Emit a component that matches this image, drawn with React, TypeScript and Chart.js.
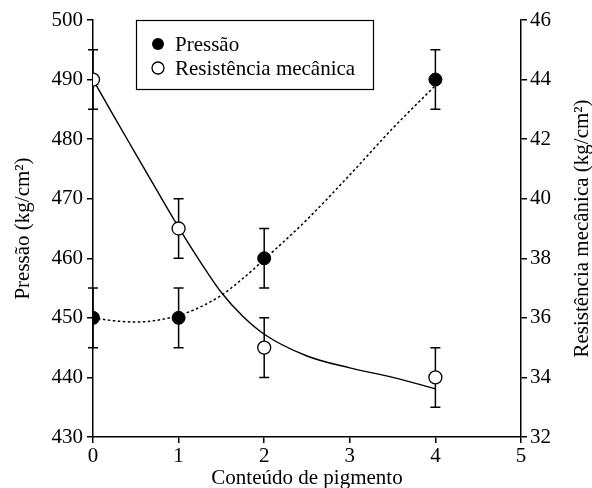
import React, { useEffect, useRef } from 'react';
import { Chart, registerables } from 'chart.js';

Chart.register(...registerables);

// ---- data ----
const pigmento = [0, 1, 2, 4];
const pressao = [450, 450, 460, 490];
const pressaoErr = [5, 5, 5, 5];
const resistencia = [44, 39, 35, 34];
const resistenciaErr = [1, 1, 1, 1];

const pressaoFitX = [0, 0.25, 0.5, 0.75, 1, 1.25, 1.5, 1.75, 2, 2.5, 3, 3.5, 4];
const pressaoFitY = [450, 449.5, 449.3, 449.6, 450.4, 451.8, 453.8, 456.6, 459.8, 466.5, 474, 481.8, 489];

const resistFitX = [0, 0.25, 0.5, 0.75, 1, 1.25, 1.5, 1.75, 2, 2.5, 3, 3.5, 4];
const resistFitY = [44, 42.74, 41.5, 40.26, 39.04, 37.9, 36.85, 36.05, 35.45, 34.72, 34.32, 34.0, 33.62];

const xRange = [0, 5];
const pressaoRange = [430, 500];
const resistRange = [32, 46];

const labelPressao = 'Pressão';
const labelResist = 'Resistência mecânica';
const xTitle = 'Conteúdo de pigmento';
const yTitle = 'Pressão (kg/cm²)';
const y1Title = 'Resistência mecânica (kg/cm²)';

const FONT = '"Liberation Serif", "Times New Roman", serif';
const FS = 21;

const errorBarPlugin = {
  id: 'errorBars',
  beforeDatasetsDraw(chart: any) {
    const ctx = chart.ctx;
    const xs = chart.scales.x;
    const sets = [
      { vals: pressao, errs: pressaoErr, scale: chart.scales.y },
      { vals: resistencia, errs: resistenciaErr, scale: chart.scales.y1 },
    ];
    ctx.save();
    ctx.strokeStyle = '#000';
    ctx.lineWidth = 1.5;
    for (const s of sets) {
      for (let i = 0; i < pigmento.length; i++) {
        const px = xs.getPixelForValue(pigmento[i]);
        const t = s.scale.getPixelForValue(s.vals[i] + s.errs[i]);
        const b = s.scale.getPixelForValue(s.vals[i] - s.errs[i]);
        ctx.beginPath();
        ctx.moveTo(px, t);
        ctx.lineTo(px, b);
        ctx.moveTo(px - 5, t);
        ctx.lineTo(px + 5, t);
        ctx.moveTo(px - 5, b);
        ctx.lineTo(px + 5, b);
        ctx.stroke();
      }
    }
    ctx.restore();
  },
};

const decorPlugin = {
  id: 'decor',
  afterDraw(chart: any) {
    const ctx = chart.ctx;
    const ca = chart.chartArea;
    ctx.save();
    ctx.fillStyle = '#000';
    ctx.strokeStyle = '#000';
    ctx.font = `${FS}px ${FONT}`;
    // x title
    ctx.textAlign = 'center';
    ctx.textBaseline = 'alphabetic';
    ctx.fillText(xTitle, (ca.left + ca.right) / 2, 484);
    // left title
    const cy = (ca.top + ca.bottom) / 2;
    ctx.save();
    ctx.translate(23, cy);
    ctx.rotate(-Math.PI / 2);
    ctx.textBaseline = 'middle';
    ctx.fillText(yTitle, 0, 0);
    ctx.restore();
    // right title
    ctx.save();
    ctx.translate(582, cy);
    ctx.rotate(-Math.PI / 2);
    ctx.textBaseline = 'middle';
    ctx.fillText(y1Title, 0, 0);
    ctx.restore();

    // legend
    ctx.lineWidth = 1.2;
    ctx.strokeRect(136.5, 20.5, 237, 69);
    ctx.textAlign = 'left';
    ctx.textBaseline = 'middle';
    ctx.beginPath();
    ctx.arc(158, 44, 6, 0, Math.PI * 2);
    ctx.fill();
    ctx.fillText(labelPressao, 175, 45);
    ctx.beginPath();
    ctx.arc(158, 68, 6, 0, Math.PI * 2);
    ctx.fillStyle = '#fff';
    ctx.fill();
    ctx.lineWidth = 1.3;
    ctx.stroke();
    ctx.fillStyle = '#000';
    ctx.fillText(labelResist, 175, 69);
    ctx.restore();
  },
};

export default function App() {
  const ref = useRef<HTMLCanvasElement>(null);
  useEffect(() => {
    document.body.style.margin = '0';
    Chart.defaults.font.family = FONT;
    Chart.defaults.font.size = FS;
    Chart.defaults.color = '#000';
    const chart = new Chart(ref.current as HTMLCanvasElement, {
      type: 'scatter',
      data: {
        datasets: [
          {
            label: labelPressao,
            data: pigmento.map((x, i) => ({ x, y: pressao[i] })),
            yAxisID: 'y',
            pointRadius: 6.5,
            pointBackgroundColor: '#000',
            pointBorderColor: '#000',
            pointBorderWidth: 1,
            showLine: false,
          },
          {
            label: labelResist,
            data: pigmento.map((x, i) => ({ x, y: resistencia[i] })),
            yAxisID: 'y1',
            pointRadius: 6.5,
            pointBackgroundColor: '#fff',
            pointBorderColor: '#000',
            pointBorderWidth: 1.3,
            showLine: false,
          },
          {
            label: 'fit-p',
            data: pressaoFitX.map((x, i) => ({ x, y: pressaoFitY[i] })),
            yAxisID: 'y',
            showLine: true,
            pointRadius: 0,
            borderColor: '#000',
            borderWidth: 1.5,
            borderDash: [2.5, 2.5],
            cubicInterpolationMode: 'monotone',
          },
          {
            label: 'fit-r',
            data: resistFitX.map((x, i) => ({ x, y: resistFitY[i] })),
            yAxisID: 'y1',
            showLine: true,
            pointRadius: 0,
            borderColor: '#000',
            borderWidth: 1.4,
            cubicInterpolationMode: 'monotone',
          },
        ],
      } as any,
      options: {
        animation: false,
        responsive: false,
        devicePixelRatio: 1,
        layout: { padding: { top: 20, left: 0, right: 0, bottom: 0 } },
        plugins: { legend: { display: false }, tooltip: { enabled: false } },
        scales: {
          x: {
            type: 'linear',
            min: xRange[0],
            max: xRange[1],
            ticks: { stepSize: 1, padding: 1, color: '#000' },
            grid: { drawOnChartArea: false, drawTicks: true, tickLength: 6, color: '#000', lineWidth: 1.5 },
            border: { color: '#000', width: 1.5 },
            afterFit: (s: any) => { s.height = 51; },
          },
          y: {
            type: 'linear',
            position: 'left',
            min: pressaoRange[0],
            max: pressaoRange[1],
            ticks: { stepSize: 10, padding: 4, color: '#000' },
            grid: { drawOnChartArea: false, drawTicks: true, tickLength: 6, color: '#000', lineWidth: 1.5 },
            border: { color: '#000', width: 1.5 },
            afterFit: (s: any) => { s.width = 93; },
          },
          y1: {
            type: 'linear',
            position: 'right',
            min: resistRange[0],
            max: resistRange[1],
            ticks: { stepSize: 2, padding: 3, color: '#000' },
            grid: { drawOnChartArea: false, drawTicks: true, tickLength: 6, color: '#000', lineWidth: 1.5 },
            border: { color: '#000', width: 1.5 },
            afterFit: (s: any) => { s.width = 71; },
          },
        },
      } as any,
      plugins: [errorBarPlugin, decorPlugin],
    });
    return () => chart.destroy();
  }, []);
  return <canvas ref={ref} width={592} height={488} style={{ display: 'block' }} />;
}
